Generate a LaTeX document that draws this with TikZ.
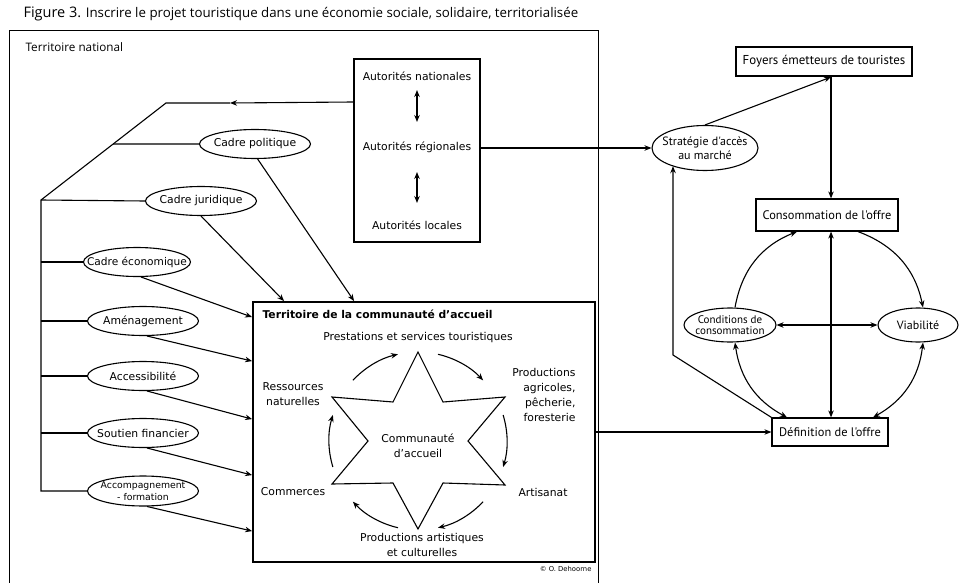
\documentclass[tikz,border=0pt]{standalone}
\usepackage{fontspec}
\setmainfont{DejaVu Sans}
\newfontfamily\myr{PT Sans}
\newfontfamily\titr{Open Sans}
\usetikzlibrary{arrows.meta,shapes,calc}

\tikzset{
  ell/.style={ellipse,draw,inner xsep=-20pt,inner ysep=-2pt,minimum width=111pt,minimum height=29pt,align=center,font=\fontsize{10.8}{12}\selectfont},
  txt/.style={inner sep=0pt,align=center,font=\fontsize{10.8}{14.5}\selectfont},
  rtxt/.style={inner sep=0pt,align=center,font=\myr\fontsize{12.4}{13}\selectfont},
  rbox/.style={draw,line width=1.2pt,inner sep=0pt},
}

\begin{document}
\begin{tikzpicture}[x=1pt,y=1pt,line width=1.1pt,>={Stealth[length=7pt,width=5.5pt]}]
\useasboundingbox (0,0) rectangle (961,-583);

% titre
\node[anchor=base west,inner sep=0pt,font=\titr\fontsize{13.3}{14}\selectfont] (titre) at (23,-18)
  {{\fontsize{14.5}{14}\selectfont Figure 3.} Inscrire le projet touristique dans une économie sociale, solidaire, territorialisée};

% territoire national
\draw[line width=0.8pt] (9,-583) -- (9,-30) -- (598,-30) -- (598,-583);
\node[anchor=base west,inner sep=0pt,font=\titr\fontsize{11.7}{13}\selectfont] (nat) at (25,-52) {Territoire national};

% autorites
\node[draw,line width=2pt,minimum width=126pt,minimum height=183pt] (aut) at (417,-150.5) {};
\node[txt] (autn) at (417,-76) {Autorités nationales};
\node[txt] (autr) at (417,-147) {Autorités régionales};
\node[txt] (autl) at (417,-225) {Autorités locales};
\draw[<->] ([yshift=-14pt]autn.center) -- ([yshift=25pt]autr.center);
\draw[<->] ([yshift=-25pt]autr.center) -- ([yshift=22pt]autl.center);

% cadres
\node[ell] (pol) at (255,-144) {Cadre politique};
\node[ell] (jur) at (201,-201) {Cadre juridique};
\node[ell,minimum width=107pt,font=\fontsize{10.6}{12}\selectfont] (eco) at (137,-262) {Cadre économique};
\node[ell] (amen) at (143,-321) {Aménagement};
\node[ell] (acces) at (143,-376) {Accessibilité};
\node[ell] (sout) at (143,-433) {Soutien financier};
\node[ell,minimum height=30pt,font=\fontsize{9.3}{12.5}\selectfont] (accomp) at (143,-491) {Accompagnement\\- formation};

\coordinate (mid) at (230,-103);
\coordinate (kink) at (166,-103);
\coordinate (fork) at (41,-200);
\coordinate (jpol) at ($(kink)!0.4227!(fork)$);
\draw[->] ([yshift=-44pt]aut.north west) -- (mid);
\draw (mid) -- (kink) -- (fork) -- (fork |- accomp.west) -- (accomp.west);
\draw (jpol) -- (pol.west);
\draw (fork) -- (jur.west);
\foreach \n in {eco,amen,acces,sout}
  \draw (fork |- \n.west) -- (\n.west);

% territoire de la communaute
\node[draw,line width=1.8pt,minimum width=342pt,minimum height=260pt] (terr) at (424,-432) {};
\node[anchor=base west,inner sep=0pt,font=\bfseries\fontsize{10.75}{12}\selectfont] (terrt) at (262,-318) {Territoire de la communauté d'accueil};

\draw[->] (pol.-80) -- ([xshift=102pt]terr.north west);
\draw[->] (jur.south) -- ([xshift=32pt]terr.north west);
\foreach \n/\d in {eco/16,amen/60,acces/118,sout/174,accomp/230}
  \draw[->] (\n.-75) -- ([yshift=-\d pt]terr.north west);

% etoile
\coordinate (c) at (418,-441);
\draw[shift={(c)}] (0,89) -- (25,39) -- (87,44) -- (50,0) -- (87,-44) -- (25,-42) -- (0,-88)
  -- (-25,-42) -- (-86,-43) -- (-50,0) -- (-86,44) -- (-25,39) -- cycle;
\foreach \a in {120,60,0,-60,-120,180}
  \draw[->] ($(c)+(\a+17:89)$) arc[start angle=\a+17,end angle=\a-17,radius=89];

\node[txt] (comm) at (418,-446) {Communauté\\d'accueil};
\node[txt] (prest) at (418,-338) {Prestations et services touristiques};
\node[txt,align=right,anchor=east,font=\fontsize{10.8}{15.3}\selectfont] (prod) at (576,-395) {Productions\\agricoles,\\pêcherie,\\foresterie};
\node[txt] (ress) at (293,-394) {Ressources\\naturelles};
\node[txt] (comr) at (293,-492) {Commerces};
\node[txt] (arti) at (543,-492) {Artisanat};
\node[txt] (part) at (422,-545) {Productions artistiques\\et culturelles};

\node[anchor=base east,inner sep=0pt,font=\fontsize{6.8}{8}\selectfont] (copy) at (592,-571) {© O. Dehoorne};

% marche
\node[rbox,line width=2.2pt,minimum width=176pt,minimum height=29pt,font=\myr\fontsize{12.9}{13}\selectfont] (foy) at (824,-61.5) {Foyers émetteurs de touristes};
\node[ellipse,draw,inner xsep=-20pt,inner ysep=-4pt,minimum width=106pt,minimum height=45pt,align=center,font=\myr\fontsize{12}{14}\selectfont] (strat) at (705,-148) {Stratégie d'accès\\au marché};
\node[rbox,rtxt,minimum width=142pt,minimum height=32pt] (cons) at (827,-215) {Consommation de l'offre};
\node[rbox,rtxt,minimum width=116pt,minimum height=28pt] (def) at (830,-432) {Définition de l'offre};
\node[ellipse,draw,inner xsep=-20pt,inner ysep=-4pt,minimum width=92pt,minimum height=34pt,align=center,font=\myr\fontsize{11}{11}\selectfont] (cond) at (730,-325) {Conditions de\\consommation};
\node[ellipse,draw,inner xsep=-20pt,minimum width=80pt,minimum height=34pt,font=\myr\fontsize{12}{13}\selectfont] (viab) at (918,-325) {Viabilité};

\coordinate (fs) at ([xshift=7pt]foy.south);
\draw[->] (aut.east |- strat.west) -- (strat.west);
\draw[->] (strat.north) -- (fs);
\draw[->] (fs) -- (fs |- cons.north);
\draw[<->] (fs |- cons.south) -- (fs |- def.north);
\draw[<->] (cond.east) -- (viab.west);
\draw[->] ([xshift=5pt]cond.north) to[bend left=29] ([xshift=-30pt]cons.south);
\draw[->] ([xshift=31pt]cons.south) to[bend left=29] ([xshift=5pt]viab.north);
\draw[<->] ([xshift=5pt]cond.south) to[bend right=27] ([xshift=-43pt]def.north);
\draw[<->] ([xshift=5pt]viab.south) to[bend left=27] ([xshift=43pt]def.north);

\coordinate (coin) at (673,-355);
\draw[->] (def.north west) -- (coin) -- (coin |- strat.209);
\draw[->] (terr.east) -- (def.west);
\end{tikzpicture}
\end{document}
